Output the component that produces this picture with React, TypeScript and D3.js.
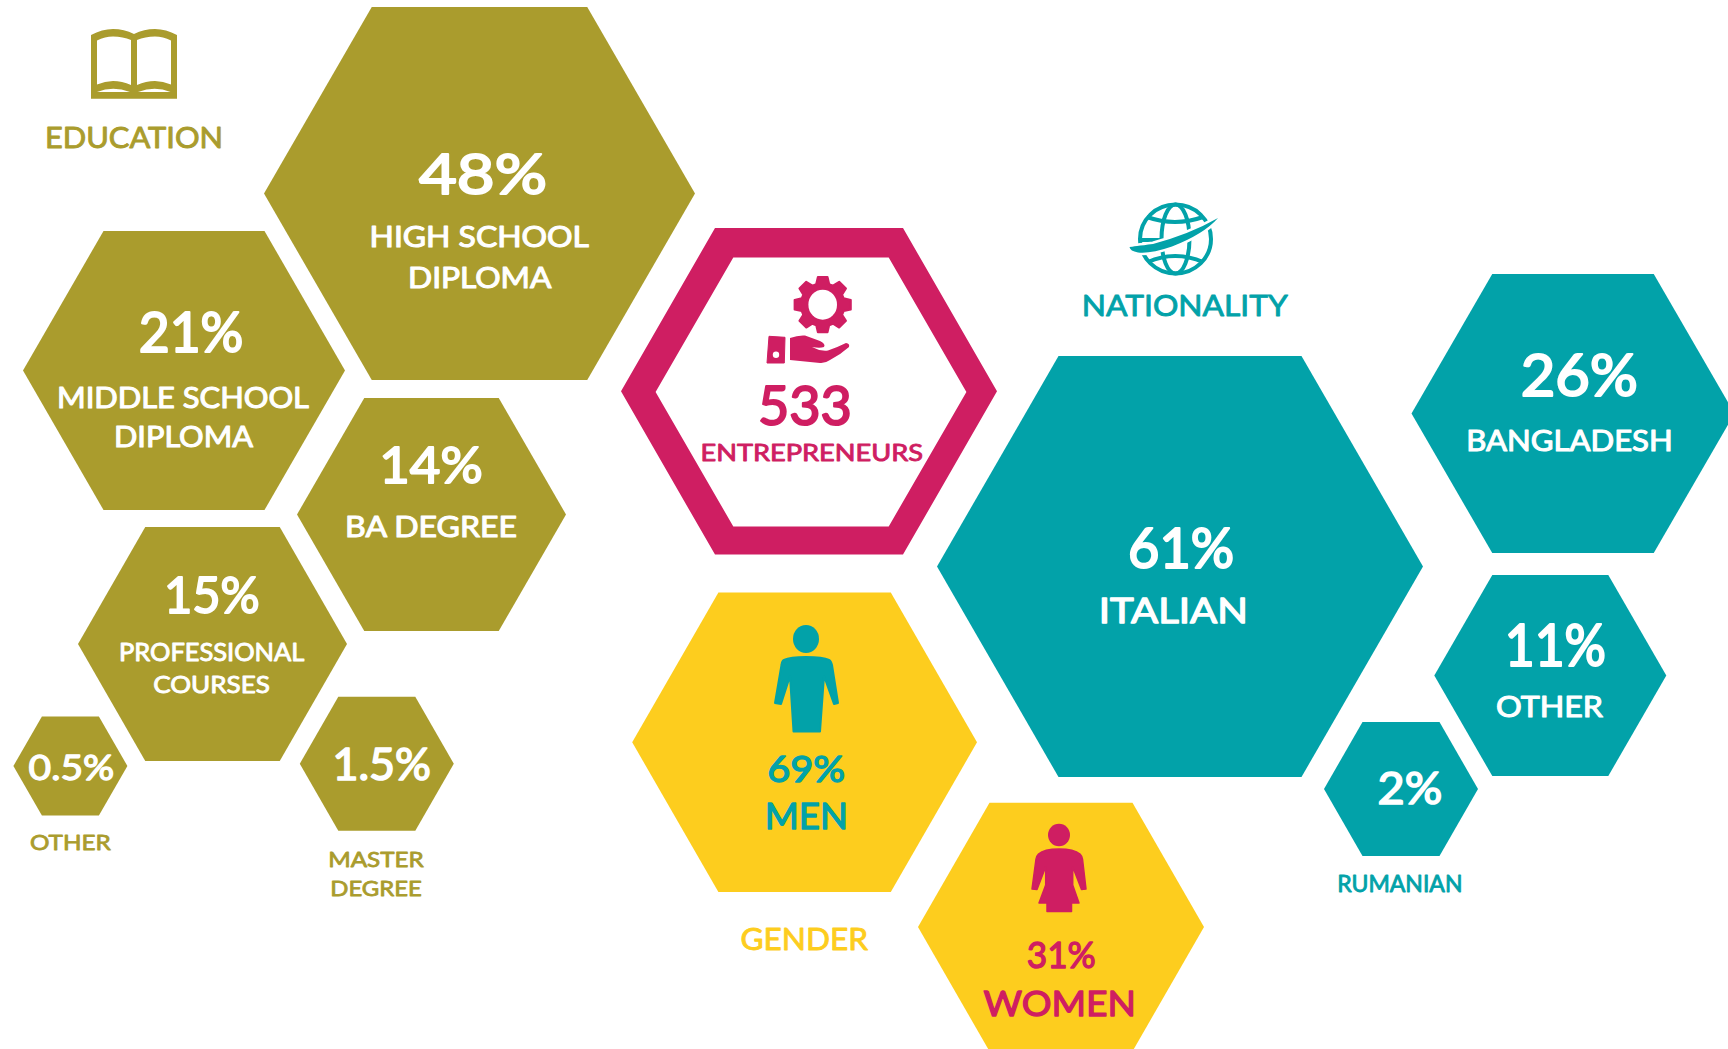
import * as d3 from "d3";

// values
const educationLabels = [["HIGH SCHOOL", "DIPLOMA"], ["MIDDLE SCHOOL", "DIPLOMA"], ["BA DEGREE"], ["PROFESSIONAL", "COURSES"], ["OTHER"], ["MASTER", "DEGREE"]];
const educationValues = [48, 21, 14, 15, 0.5, 1.5];
const nationalityLabels = [["ITALIAN"], ["BANGLADESH"], ["OTHER"], ["RUMANIAN"]];
const nationalityValues = [61, 26, 11, 2];
const genderLabels = [["MEN"], ["WOMEN"]];
const genderValues = [69, 31];
const totalValue = 533;
const totalLabel = "ENTREPRENEURS";
const groupTitles = ["EDUCATION", "NATIONALITY", "GENDER"];

const OLIVE = "#aa9c2d";
const PINK = "#cf1e62";
const TEAL = "#02a2a9";
const YELLOW = "#fdcd1e";
const WHITE = "#fff";
const FONT = "Lato, 'Noto Sans', sans-serif";

// layout: hexagon = [cx, cy, rx, ry], text box = [x0, x1, baseline, capHeight]
type Box = [number, number, number, number];
type Slot = { hex: number[]; value: Box; lines: Box[]; lineColor?: string };

const educationSlots: Slot[] = [
  { hex: [479.5, 193.5, 215.5, 186.5], value: [421, 545, 195, 43], lines: [[370.5, 588, 248, 21.5], [409, 550.5, 288.3, 21.5]] },
  { hex: [184, 370.5, 161, 139.5], value: [140.6, 241.5, 353, 43], lines: [[58, 308, 408.7, 22], [115, 252, 447.7, 22]] },
  { hex: [431.5, 514.5, 134.5, 116.5], value: [381, 481, 484, 38], lines: [[346, 516, 537.3, 21.5]] },
  { hex: [212.5, 644, 134.5, 117], value: [165.7, 258, 614, 38], lines: [[119.8, 303.5, 661.7, 18.4], [154, 269, 693.3, 18]] },
  { hex: [70.4, 766, 57, 49.5], value: [29.8, 113, 780.7, 26], lines: [[30.6, 110, 850, 15.5]], lineColor: OLIVE },
  { hex: [376.8, 763.8, 77, 67], value: [334, 429.4, 780.7, 33], lines: [[329, 423, 867.7, 16], [331, 421, 896.7, 16]], lineColor: OLIVE },
];
const nationalitySlots: Slot[] = [
  { hex: [1180, 566.5, 243, 210.5], value: [1130, 1232.3, 569.3, 43], lines: [[1100, 1246.7, 623.3, 27]] },
  { hex: [1573, 413.5, 161.5, 139.5], value: [1522.7, 1635.7, 396.8, 44], lines: [[1467.3, 1671.7, 452, 22]] },
  { hex: [1550.3, 675.5, 116, 100.5], value: [1506.7, 1604, 667.4, 44.6], lines: [[1497, 1602, 718, 22]] },
  { hex: [1401, 789, 77, 67], value: [1379, 1440.7, 805, 33.6], lines: [[1338, 1461.7, 892.6, 17]], lineColor: TEAL },
];
const genderSlots: Slot[] = [
  { hex: [804.6, 742.3, 172.4, 149.7], value: [768.5, 843.9, 782.3, 28], lines: [[766, 846.6, 830, 28]] },
  { hex: [1061, 927, 143, 124.3], value: [1028, 1094.5, 969, 28], lines: [[984.7, 1134.7, 1016.7, 27]] },
];
const titleBoxes: Box[] = [[46, 222, 148.3, 21.7], [1083, 1286.6, 316.7, 22.3], [741.7, 866.8, 950, 22.7]];
const ringOuter = [809, 391.3, 188, 163.3];
const ringInner = [811, 392, 155.4, 134.5];
const totalBox: Box = [759.8, 850, 425.7, 41];
const totalLabelBox: Box = [701.3, 922.3, 461.7, 17.7];

// unit hexagon, scaled into place with d3
const unitHex: [number, number][] = [[-1, 0], [-0.5, -1], [0.5, -1], [1, 0], [0.5, 1], [-0.5, 1]];
function hexPath([cx, cy, rx, ry]: number[]) {
  const x = d3.scaleLinear().domain([-1, 1]).range([cx - rx, cx + rx]);
  const y = d3.scaleLinear().domain([-1, 1]).range([cy - ry, cy + ry]);
  return d3.line<[number, number]>().x((d) => x(d[0])).y((d) => y(d[1])).curve(d3.curveLinearClosed)(unitHex) as string;
}

// gear outline: 8 teeth round a centre
function gearPath(cx: number, cy: number, rx: number, ry: number) {
  const pts: [number, number][] = [];
  d3.range(8).forEach((i) => {
    const a = (i * Math.PI) / 4 - Math.PI / 2;
    const step = 0.17;
    [[-0.3, 0.77], [-step, 1], [step, 1], [0.3, 0.77]].forEach(([da, r]) => {
      pts.push([cx + rx * r * Math.cos(a + da), cy + ry * r * Math.sin(a + da)]);
    });
  });
  return d3.line().curve(d3.curveLinearClosed)(pts) as string;
}

// regular weight plus a round-joined outline gets close to the rounded face in the picture
function Label({ text, box, color, bleed = 0.9 }: { text: string; box: Box; color: string; bleed?: number }) {
  const [x0, x1, base, cap] = box;
  return (
    <text
      x={(x0 + x1) / 2}
      y={base - bleed / 2}
      textAnchor="middle"
      fontFamily={FONT}
      fontSize={(cap - bleed) / 0.72}
      fontWeight={400}
      fill={color}
      stroke={color}
      strokeWidth={bleed}
      strokeLinejoin="round"
      textLength={x1 - x0 - bleed + cap * 0.14}
      lengthAdjust="spacingAndGlyphs"
    >
      {text}
    </text>
  );
}

function HexGroup({ slots, values, labels, fill, valueColors, lineColors }: any) {
  return (
    <g>
      {slots.map((s: Slot, i: number) => (
        <g key={i}>
          <path d={hexPath(s.hex)} fill={fill} />
          <Label text={`${values[i]}%`} box={s.value} color={valueColors[i]} bleed={s.value[3] * 0.05} />
          {labels[i].map((line: string, j: number) => (
            <Label key={j} text={line} box={s.lines[j]} color={s.lineColor ?? lineColors[i]} bleed={s.lines[j][3] * 0.05} />
          ))}
        </g>
      ))}
    </g>
  );
}

function BookIcon() {
  return (
    <path
      fill={OLIVE}
      fillRule="evenodd"
      d="M91,35 Q102,29 113,29 Q124,29 134,34 Q144,29 155,29 Q166,29 177,35 V98.7 H91 Z
         M97,40.5 Q105,36.5 113,36.5 Q123,36.5 131,40 V85 Q122,81 113,81 Q105,81 97,84.5 Z
         M137,40 Q145,36.5 155,36.5 Q163,36.5 171,40.5 V84.5 Q163,81 155,81 Q146,81 137,85 Z
         M97,92 Q113,85.5 130,92 Z
         M138,92 Q155,85.5 170.5,92 Z"
    />
  );
}

function GearHandIcon() {
  return (
    <g fill={PINK}>
      <path d={gearPath(822.7, 304.7, 28.5, 28)} stroke={PINK} strokeWidth={2} strokeLinejoin="round" />
      <ellipse cx={822.7} cy={304.7} rx={14.3} ry={15} fill={WHITE} />
      <path d="M769,336.3 L785,337.3 L784.3,363 L767,363 Z" stroke={PINK} strokeWidth={1} strokeLinejoin="round" />
      <circle cx={776} cy={354.7} r={3.2} fill={WHITE} />
      <path d="M790,338 Q798,335 805,335.5 L820,341 Q826,344 824,347 Q820,348.5 812,347 Q820,351.5 828,350.5 Q838,347 846,343 Q850,343.5 849,347 Q840,355 830,360 Q825,363.5 820,363 L790,360 Z" />
    </g>
  );
}

const swoosh = "M1129.5,247 Q1133,246.5 1153,244 Q1190,234 1218,218 Q1204,234 1172,246.5 Q1150,254 1138,252.5 Q1130,251 1129.5,247 Z";

function GlobeIcon() {
  return (
    <g>
      <g fill="none" stroke={TEAL} strokeWidth={4}>
        <ellipse cx={1175.5} cy={239} rx={35.5} ry={34.5} />
        <ellipse cx={1175.5} cy={239} rx={14} ry={34.5} />
        <path d="M1147,217 Q1175,227 1203,217" />
        <path d="M1148,262 Q1175,250 1203,262" />
        <path d="M1140,240 H1172" />
      </g>
      <path d={swoosh} fill={WHITE} stroke={WHITE} strokeWidth={5} strokeLinejoin="round" />
      <path d={swoosh} fill={TEAL} />
    </g>
  );
}

function ManIcon() {
  return (
    <g fill={TEAL}>
      <ellipse cx={806} cy={639} rx={13} ry={14} />
      <path
        stroke={TEAL}
        strokeWidth={2}
        strokeLinejoin="round"
        d="M806,657 Q823,657 829,660 Q831,661 832,665 L838,703 L834,704 L824,676 L820,731.5 L793.5,731.5 L790,676 L781,704 L775,703 L781.5,665 Q782,661 784,660 Q790,657 806,657 Z"
      />
    </g>
  );
}

function WomanIcon() {
  return (
    <g fill={PINK}>
      <ellipse cx={1059} cy={835} rx={11} ry={11.3} />
      <path
        stroke={PINK}
        strokeWidth={1.5}
        strokeLinejoin="round"
        d="M1059,849 Q1074,849 1080,854 Q1082,856 1082.5,859 L1086,889 L1081.5,889.5 L1072.7,866.7 L1072.7,885 L1079,903 L1071.5,903 L1071.5,911.5 L1047,911.5 L1047,903 L1039,903 L1045.7,885 L1045.7,866.7 L1037,889.5 L1032,889 L1036,859 Q1036.5,856 1038.5,854 Q1044,849 1059,849 Z"
      />
    </g>
  );
}

export default function App() {
  return (
    <svg width={1728} height={1049} viewBox="0 0 1728 1049" style={{ position: "absolute", left: 0, top: 0, display: "block", background: WHITE }}>
      <BookIcon />
      <Label text={groupTitles[0]} box={titleBoxes[0]} color={OLIVE} />
      <HexGroup
        slots={educationSlots}
        values={educationValues}
        labels={educationLabels}
        fill={OLIVE}
        valueColors={educationValues.map(() => WHITE)}
        lineColors={educationValues.map(() => WHITE)}
      />

      <path d={`${hexPath(ringOuter)} ${hexPath(ringInner)}`} fill={PINK} fillRule="evenodd" />
      <GearHandIcon />
      <Label text={String(totalValue)} box={totalBox} color={PINK} bleed={2} />
      <Label text={totalLabel} box={totalLabelBox} color={PINK} />

      <GlobeIcon />
      <Label text={groupTitles[1]} box={titleBoxes[1]} color={TEAL} />
      <HexGroup
        slots={nationalitySlots}
        values={nationalityValues}
        labels={nationalityLabels}
        fill={TEAL}
        valueColors={nationalityValues.map(() => WHITE)}
        lineColors={nationalityValues.map(() => WHITE)}
      />

      <HexGroup
        slots={genderSlots}
        values={genderValues}
        labels={genderLabels}
        fill={YELLOW}
        valueColors={[TEAL, PINK]}
        lineColors={[TEAL, PINK]}
      />
      <ManIcon />
      <WomanIcon />
      <Label text={groupTitles[2]} box={titleBoxes[2]} color={YELLOW} />
    </svg>
  );
}
